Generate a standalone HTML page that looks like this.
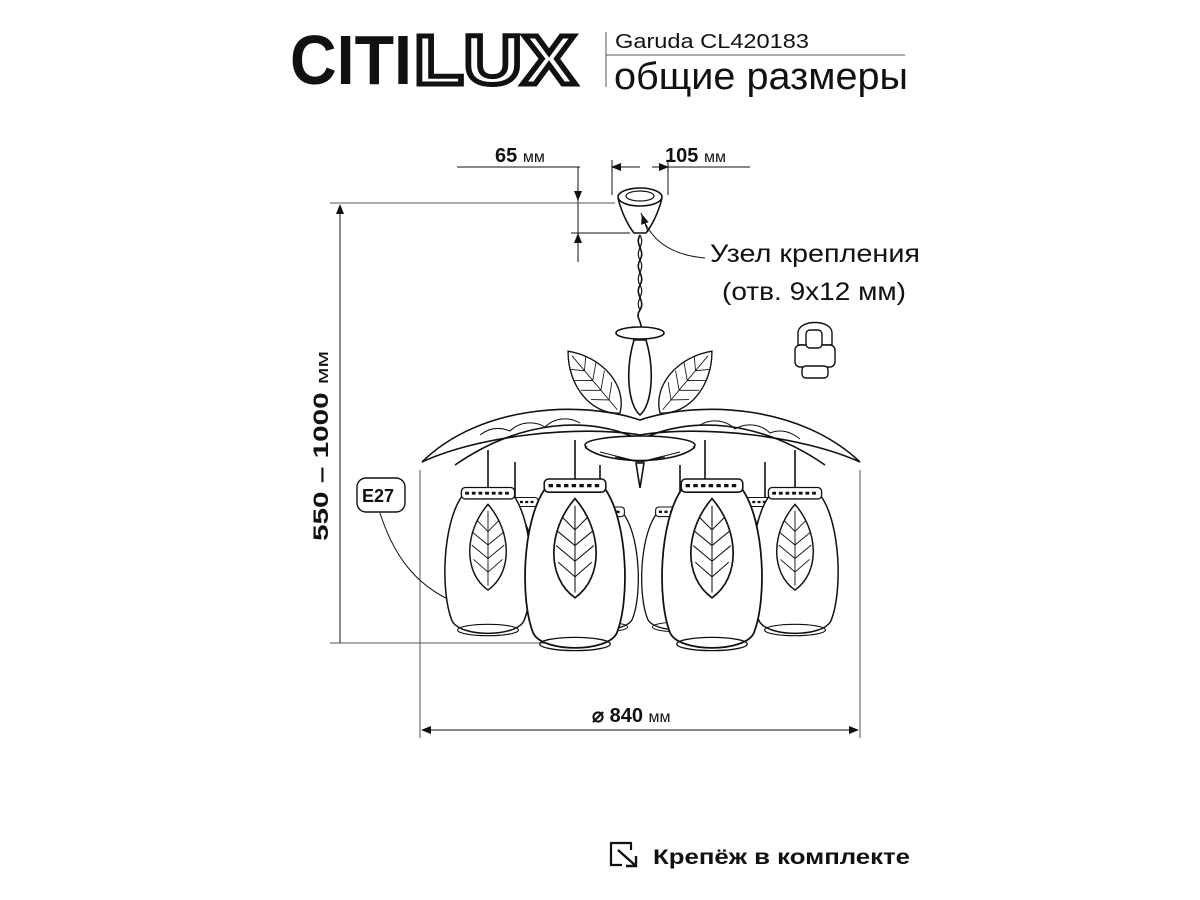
<!DOCTYPE html>
<html><head><meta charset="utf-8"><style>
body{margin:0;background:#fff;width:1200px;height:900px;overflow:hidden}
svg{display:block}
text{font-family:"Liberation Sans",sans-serif}
</style></head><body>
<svg width="1200" height="900" viewBox="0 0 1200 900" xmlns="http://www.w3.org/2000/svg">
<defs>
<marker id="ar" markerWidth="10" markerHeight="8" refX="9" refY="4" orient="auto"><path d="M0,0 L10,4 L0,8 z" fill="#111"/></marker>
<g id="leaf"><path d="M0,0 C-28,-20 -26,-65 0,-95 C26,-65 28,-20 0,0 Z" fill="#fff" stroke="#111" stroke-width="1.6"/>
<path d="M0,-5 L0,-88 M0,-20 L-16,-34 M0,-20 L16,-34 M0,-35 L-18,-50 M0,-35 L18,-50 M0,-50 L-17,-64 M0,-50 L17,-64 M0,-65 L-12,-77 M0,-65 L12,-77" stroke="#111" stroke-width="1" fill="none"/></g>
<g id="shade"><path d="M-28,0 C-48,30 -50,100 -38,130 C-30,148 30,148 38,130 C50,100 48,30 28,0 Z" fill="#fff" stroke="#111" stroke-width="1.6"/>
<ellipse cx="0" cy="140" rx="32" ry="6" fill="none" stroke="#111" stroke-width="1.2"/>
<rect x="-28" y="-10" width="56" height="12" rx="4" fill="#fff" stroke="#111" stroke-width="1.4"/>
<path d="M-24,-4 h48" stroke="#111" stroke-width="3" stroke-dasharray="4 3"/>
<use href="#leaf" transform="translate(0,98) scale(0.95)"/></g>
</defs>

<text x="290" y="84" font-size="70" font-weight="bold" textLength="122" lengthAdjust="spacingAndGlyphs" style="fill:#111">CITI</text>
<text x="414" y="84" font-size="70" font-weight="bold" textLength="162" lengthAdjust="spacingAndGlyphs" style="fill:#fff;stroke:#111;stroke-width:5">LUX</text>
<line x1="606" y1="32" x2="606" y2="87" stroke="#555" stroke-width="1"/>
<line x1="606" y1="55" x2="905" y2="55" stroke="#555" stroke-width="1"/>
<text x="615" y="48" font-size="20" textLength="194" lengthAdjust="spacingAndGlyphs" style="fill:#111">Garuda CL420183</text>
<text x="614" y="89" font-size="38" textLength="294" lengthAdjust="spacingAndGlyphs" style="fill:#111">общие размеры</text>

<text x="495" y="162" font-size="20" font-weight="bold" style="fill:#111">65 <tspan font-size="16" font-weight="normal">мм</tspan></text>
<line x1="457" y1="167" x2="580" y2="167" stroke="#111"/>
<line x1="578" y1="167" x2="578" y2="200" stroke="#111" marker-end="url(#ar)"/>
<line x1="578" y1="262" x2="578" y2="234" stroke="#111" marker-end="url(#ar)"/>
<line x1="578" y1="200" x2="578" y2="234" stroke="#111"/>
<line x1="571" y1="233" x2="630" y2="233" stroke="#111"/>
<text x="665" y="162" font-size="20" font-weight="bold" style="fill:#111">105 <tspan font-size="16" font-weight="normal">мм</tspan></text>
<line x1="612" y1="160" x2="612" y2="195" stroke="#111"/>
<line x1="668" y1="160" x2="668" y2="195" stroke="#111"/>
<line x1="612" y1="167" x2="640" y2="167" stroke="#111"/>
<line x1="628" y1="167" x2="612" y2="167" stroke="#111" marker-end="url(#ar)"/>
<line x1="652" y1="167" x2="668" y2="167" stroke="#111" marker-end="url(#ar)"/>
<line x1="668" y1="167" x2="750" y2="167" stroke="#111"/>

<path d="M618,198 C622,215 630,228 634,233 L646,233 C650,228 658,215 662,198" fill="#fff" stroke="#111" stroke-width="1.6"/>
<ellipse cx="640" cy="197" rx="22" ry="9" fill="#fff" stroke="#111" stroke-width="1.6"/>
<ellipse cx="640" cy="196" rx="14" ry="5" fill="none" stroke="#111" stroke-width="1.2"/>
<path d="M641,213 C650,240 670,255 705,258" fill="none" stroke="#111" stroke-width="1" />
<line x1="648" y1="232" x2="642" y2="215" stroke="#111" marker-end="url(#ar)"/>
<text x="710" y="262" font-size="25" textLength="210" lengthAdjust="spacingAndGlyphs" style="fill:#111">Узел крепления</text>
<text x="722" y="300" font-size="25" textLength="184" lengthAdjust="spacingAndGlyphs" style="fill:#111">(отв. 9х12 мм)</text>
<g fill="#fff" stroke="#111" stroke-width="1.4">
<path d="M798,345 v-12 c0,-14 34,-14 34,0 v12 z"/>
<rect x="795" y="345" width="40" height="22" rx="5"/>
<rect x="802" y="366" width="26" height="12" rx="4"/>
<rect x="806" y="330" width="16" height="18" rx="4"/>
</g>

<path d="M640,235 c-6,10 6,15 0,25 c-6,10 6,15 0,25 c-6,10 6,15 0,25 c-6,8 4,12 0,20" fill="none" stroke="#111" stroke-width="1.6"/>
<path d="M640,235 c6,10 -6,15 0,25 c6,10 -6,15 0,25 c6,10 -6,15 0,25" fill="none" stroke="#111" stroke-width="1.2"/>

<line x1="330" y1="203" x2="615" y2="203" stroke="#555"/>
<line x1="340" y1="643" x2="340" y2="205" stroke="#111" marker-end="url(#ar)"/>
<line x1="330" y1="643" x2="545" y2="643" stroke="#555"/>
<text transform="translate(328,446) rotate(-90)" font-size="21" font-weight="bold" text-anchor="middle" textLength="190" lengthAdjust="spacingAndGlyphs" style="fill:#111">550 – 1000 <tspan font-size="17" font-weight="normal">мм</tspan></text>

<line x1="420" y1="470" x2="420" y2="738" stroke="#555"/>
<line x1="860" y1="470" x2="860" y2="738" stroke="#555"/>
<line x1="560" y1="730" x2="422" y2="730" stroke="#111" marker-end="url(#ar)"/>
<line x1="560" y1="730" x2="858" y2="730" stroke="#111" marker-end="url(#ar)"/>
<text x="592" y="722" font-size="20" font-weight="bold" style="fill:#111">⌀ 840 <tspan font-size="16" font-weight="normal">мм</tspan></text>

<rect x="357" y="478" width="48" height="34" rx="9" fill="#fff" stroke="#111" stroke-width="1.4"/>
<text x="362" y="502" font-size="18" font-weight="bold" style="fill:#111">E27</text>
<path d="M380,513 C395,560 420,590 462,605" fill="none" stroke="#111" stroke-width="1" marker-end="url(#ar)"/>

<g fill="#fff" stroke="#111" stroke-width="1.6">
<use href="#leaf" transform="translate(620,413) rotate(-40) scale(0.85)"/>
<use href="#leaf" transform="translate(660,413) rotate(40) scale(0.85)"/>
<ellipse cx="640" cy="333" rx="24" ry="6"/>
<path d="M634,340 C625,370 628,405 640,415 C652,405 655,370 646,340 Z"/>
<path d="M422,462 C480,405 580,400 640,420 C700,400 800,405 860,462 C800,435 700,425 640,435 C580,425 480,435 422,462 Z"/>
<path d="M455,465 C520,420 590,415 640,440 C690,415 760,420 825,465" fill="none"/>
<path d="M480,435 c10,-8 20,-8 30,-4 c10,-10 25,-10 35,-4 c10,-10 25,-10 35,-4 M700,425 c10,-6 25,-6 35,4 c10,-6 25,-6 35,4 c10,-4 20,-2 30,6" fill="none" stroke-width="1"/>
<ellipse cx="640" cy="445" rx="55" ry="9"/>
<path d="M585,447 C605,465 675,465 695,447" />
<path d="M600,452 L640,462 L680,452 M615,457 L640,462 L665,457 M628,460 L640,462 L652,460" fill="none" stroke-width="1"/>
<path d="M636,463 L644,463 L640,488 Z"/>
</g>
<g stroke="#111" stroke-width="1.6" fill="none">
<path d="M488,450 v42 M515,462 v40 M575,440 v40 M600,465 v40 M680,465 v40 M705,440 v40 M765,462 v40 M795,450 v42"/>
</g>
<use href="#shade" transform="translate(517,505) scale(0.75)"/>
<use href="#shade" transform="translate(602,515) scale(0.8)"/>
<use href="#shade" transform="translate(678,515) scale(0.8)"/>
<use href="#shade" transform="translate(765,505) scale(0.75)"/>
<use href="#shade" transform="translate(488,497) scale(0.95)"/>
<use href="#shade" transform="translate(795,497) scale(0.95)"/>
<use href="#shade" transform="translate(575,490) scale(1.1)"/>
<use href="#shade" transform="translate(712,490) scale(1.1)"/>

<path d="M631,850 L631,843 L611,843 L611,865 L622,865" fill="none" stroke="#111" stroke-width="2.2"/>
<path d="M618,850 L636,866 M636,856 L636,866 L626,866" fill="none" stroke="#111" stroke-width="2.4"/>
<text x="653" y="864" font-size="21" font-weight="bold" textLength="257" lengthAdjust="spacingAndGlyphs" style="fill:#111">Крепёж в комплекте</text>
</svg>
</body></html>
